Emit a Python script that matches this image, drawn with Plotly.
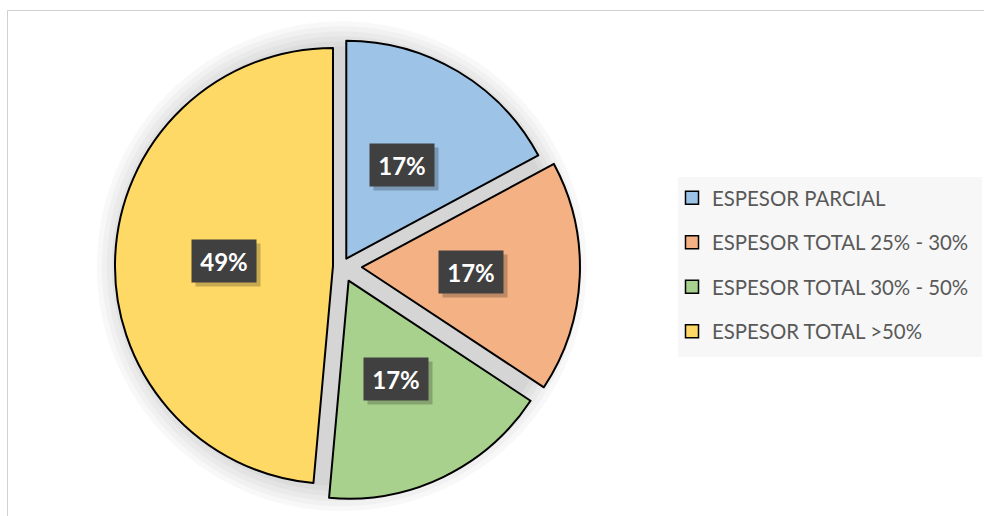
import math
import plotly.graph_objects as go

# ---- data ----
labels = ["ESPESOR PARCIAL", "ESPESOR TOTAL 25% - 30%", "ESPESOR TOTAL 30% - 50%", "ESPESOR TOTAL >50%"]
values = [6, 6, 6, 17]
colors = ["#9DC3E6", "#F4B183", "#A9D18E", "#FFD966"]
pulls = [0.041, 0.093, 0.073, 0.040]

# ---- layout geometry (pixels) ----
W, H = 984, 516
CX, CY, R = 341.7, 266.3, 218.0
FONT = "Lato"


def domain_for(radius_px, max_pull):
    side = 2 * radius_px * (1 + max_pull)
    return dict(
        x=[(CX - side / 2) / W, (CX + side / 2) / W],
        y=[1 - (CY + side / 2) / H, 1 - (CY - side / 2) / H],
    )


fig = go.Figure()

# soft shadow halo behind the pie
for extra in [27, 22, 17, 12, 7, 2]:
    fig.add_trace(go.Pie(
        values=[1], labels=["_shadow"], marker=dict(colors=["rgba(0,0,0,0.026)"], line=dict(width=0)),
        domain=domain_for(R + extra, 0), textinfo="none", hoverinfo="skip",
        showlegend=False, sort=False,
    ))

# main pie
fig.add_trace(go.Pie(
    labels=labels, values=values, sort=False, direction="clockwise", rotation=0,
    pull=pulls, marker=dict(colors=colors, line=dict(color="black", width=2)),
    textinfo="none", showlegend=False, domain=domain_for(R, max(pulls)),
))

# legend entries
for lab, col in zip(labels, colors):
    fig.add_trace(go.Scatter(
        x=[None], y=[None], mode="markers", name=lab, legendgroup=lab,
        marker=dict(symbol="square", size=13, color=col, line=dict(color="black", width=1.5)),
        hoverinfo="skip",
    ))

# percentage labels in dark boxes
total = sum(values)
cum = 0
annotations = []
for v, p in zip(values, pulls):
    mid = 2 * math.pi * (cum + v / 2) / total
    cum += v
    dist = (p + 0.5) * R
    px = CX + dist * math.sin(mid)
    py = CY - dist * math.cos(mid)
    txt = f"{round(100 * v / total)}%"
    common = dict(xref="paper", yref="paper", x=px / W, y=1 - py / H, showarrow=False,
                  xanchor="center", yanchor="middle",
                  width=58, height=36, borderpad=3)
    annotations.append(dict(common, text="", bgcolor="rgba(0,0,0,0.22)", xshift=4, yshift=-4))
    annotations.append(dict(common, text=f"<b>{txt}</b>", bgcolor="#404040",
                            font=dict(family=FONT, size=24, color="white")))

shapes = [
    dict(type="rect", xref="paper", yref="paper", x0=7.5 / W, x1=1.2, y0=-0.2, y1=1 - 10.5 / H,
         line=dict(color="#D0D0D0", width=1), fillcolor="rgba(0,0,0,0)", layer="below"),
    dict(type="rect", xref="paper", yref="paper", x0=678 / W, x1=982 / W, y0=1 - 357 / H, y1=1 - 177 / H,
         line=dict(width=0), fillcolor="#F7F7F7", layer="below"),
]

fig.update_layout(
    width=W, height=H, margin=dict(l=0, r=0, t=0, b=0),
    paper_bgcolor="white", plot_bgcolor="rgba(0,0,0,0)",
    xaxis=dict(visible=False), yaxis=dict(visible=False),
    showlegend=True,
    legend=dict(x=672 / W, y=1 - 177.9 / H, xanchor="left", yanchor="top",
                bgcolor="rgba(0,0,0,0)", traceorder="grouped", tracegroupgap=15,
                font=dict(family=FONT, size=20.4, color="#595959")),
    annotations=annotations, shapes=shapes,
)

fig.write_html(
    "out.html",
    config={"displayModeBar": False},
    post_script="document.body.style.margin='0';document.body.style.overflow='hidden';",
)
